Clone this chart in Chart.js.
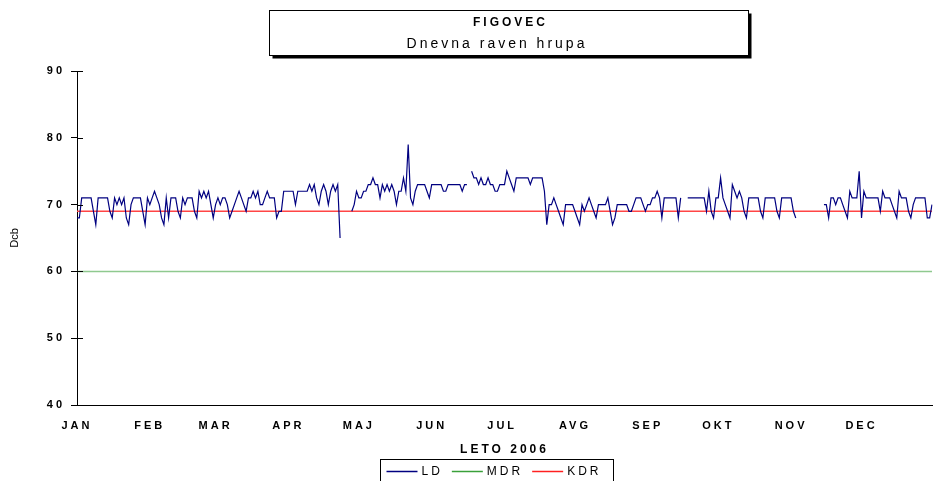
<!DOCTYPE html>
<html>
<head>
<meta charset="utf-8">
<script src="https://cdn.jsdelivr.net/npm/chart.js@4/dist/chart.umd.min.js"></script>
<style>
html, body { margin: 0; padding: 0; background: #fff; }
</style>
</head>
<body>
<canvas id="mycanvas" width="933" height="481"></canvas>
<script>
// tick labels / categories
var months = ['JAN', 'FEB', 'MAR', 'APR', 'MAJ', 'JUN', 'JUL', 'AVG', 'SEP', 'OKT', 'NOV', 'DEC'];
var monthDays = [31, 28, 31, 30, 31, 30, 31, 31, 30, 31, 30, 31];
var yTicks = [40, 50, 60, 70, 80, 90];

// LD - daily noise level (Dcb), null = no measurement
var ldJan = [68,68,71,71,71,71,71,69,67,71,71,71,71,71,69,68,71,70,71,70,71,68,67,70,71,71,71,71,69,67,71];
var ldFeb = [70,71,72,71,70,68,67,71,68,71,71,71,69,68,71,70,71,71,71,69,68,72,71,72,71,72,70,68];
var ldMar = [70,71,70,71,71,70,68,69,70,71,72,71,70,69,71,71,72,71,72,70,70,71,72,71,71,71,68,69,69,72,72];
var ldApr = [72,72,72,70,72,72,72,72,72,73,72,73,71,70,72,73,72,70,72,73,72,73,65,null,null,null,null,69,70,72];
var ldMaj = [71,71,72,72,73,73,74,73,73,71,73,72,73,72,73,72,70,72,72,74,72,79,71,70,72,73,73,73,73,72,71];
var ldJun = [73,73,73,73,73,72,72,73,73,73,73,73,73,72,73,73,null,75,74,74,73,74,73,73,74,73,73,72,72,73];
var ldJul = [73,73,75,74,73,72,74,74,74,74,74,74,73,74,74,74,74,74,72,67,70,70,71,70,69,68,67,70,70,70,70];
var ldAvg = [69,68,67,70,69,70,71,70,69,68,70,70,70,70,71,69,67,68,70,70,70,70,70,69,69,70,71,71,71,70,69];
var ldSep = [70,70,71,71,72,71,68,71,71,71,71,71,71,68,71,null,null,71,71,71,71,71,71,71,71,69,72,69,68,71];
var ldOkt = [71,74,71,70,69,68,73,72,71,72,71,69,68,71,71,71,71,71,69,68,71,71,71,71,71,69,68,71,71,71,71];
var ldNov = [71,69,68,null,null,null,null,null,null,null,null,null,null,null,70,70,68,71,71,70,71,71,70,69,68,72,71,71,71,75];
var ldDec = [68,72,71,71,71,71,71,71,69,72,71,71,71,70,69,68,72,71,71,71,69,68,70,71,71,71,71,71,68,68,70];

// limit values
var mdrLevel = 60;
var kdrLevel = 69;

var labels = [];
for (var m = 0; m < months.length; m++) {
  for (var d = 0; d < monthDays[m]; d++) labels.push(d === 0 ? months[m] : '');
}
var ld = [].concat(ldJan, ldFeb, ldMar, ldApr, ldMaj, ldJun, ldJul, ldAvg, ldSep, ldOkt, ldNov, ldDec);
var mdr = labels.map(function(){ return mdrLevel; });
var kdr = labels.map(function(){ return kdrLevel; });

var FONT = "'Liberation Sans', Arial, sans-serif";

var frames = {
  id: 'frames',
  beforeDraw: function(chart) {
    chart.ctx.letterSpacing = '3px';
  },
  afterDraw: function(chart) {
    var ctx = chart.ctx, ca = chart.chartArea, ys = chart.scales.y;
    ctx.save();
    ctx.strokeStyle = '#000';
    ctx.lineWidth = 1;
    // inner half of the y ticks
    yTicks.forEach(function(v) {
      var py = Math.round(ys.getPixelForValue(v)) + 0.5;
      ctx.beginPath();
      ctx.moveTo(ca.left, py);
      ctx.lineTo(ca.left + 6, py);
      ctx.stroke();
    });

    // y axis title (no letter spacing)
    ctx.save();
    ctx.letterSpacing = '0px';
    ctx.fillStyle = '#000';
    ctx.font = '11px ' + FONT;
    ctx.textAlign = 'center';
    ctx.textBaseline = 'middle';
    ctx.translate(15, (ca.top + ca.bottom) / 2);
    ctx.rotate(-Math.PI / 2);
    ctx.fillText('Dcb', 0, 0);
    ctx.restore();

    // title box with shadow
    var bx = 269.5, by = 10.5, bw = 479, bh = 45;
    ctx.fillStyle = '#000';
    ctx.fillRect(bx + 3, by + 3, bw, bh);
    ctx.fillStyle = '#fff';
    ctx.fillRect(bx, by, bw, bh);
    ctx.strokeRect(bx, by, bw, bh);
    ctx.fillStyle = '#000';
    ctx.textAlign = 'center';
    ctx.textBaseline = 'middle';
    ctx.letterSpacing = '3px';
    ctx.font = 'bold 12px ' + FONT;
    ctx.fillText('FIGOVEC', bx + bw / 2 + 1.5, by + 12);
    ctx.font = '14px ' + FONT;
    ctx.fillText('Dnevna raven hrupa', bx + bw / 2 - 12, by + 34);

    // legend box
    var lx = 380.5, ly = 459.5, lw = 233, lh = 30;
    ctx.strokeStyle = '#000';
    ctx.lineWidth = 1;
    ctx.strokeRect(lx, ly, lw, lh);
    ctx.font = '12px ' + FONT;
    ctx.textAlign = 'left';
    var cx = lx + 6, cy = ly + 12;
    chart.data.datasets.forEach(function(ds) {
      ctx.strokeStyle = ds.legendColor;
      ctx.lineWidth = 1.5;
      ctx.beginPath();
      ctx.moveTo(cx, cy);
      ctx.lineTo(cx + 31, cy);
      ctx.stroke();
      cx += 35;
      ctx.fillStyle = '#000';
      ctx.fillText(ds.label, cx, cy);
      cx += ctx.measureText(ds.label).width + 9;
    });
    ctx.restore();
  }
};

var ctx = document.getElementById('mycanvas');
var chart = new Chart(ctx, {
  type: 'line',
  data: {
    labels: labels,
    datasets: [
      { label: 'LD', data: ld, borderColor: '#000080', legendColor: '#000080', borderWidth: 1.2, pointRadius: 0, tension: 0, spanGaps: false },
      { label: 'MDR', data: mdr, borderColor: '#8fc98f', legendColor: '#3aa03a', borderWidth: 1.5, pointRadius: 0 },
      { label: 'KDR', data: kdr, borderColor: '#ff4545', legendColor: '#ff2020', borderWidth: 1.5, pointRadius: 0 }
    ]
  },
  options: {
    responsive: false,
    animation: false,
    devicePixelRatio: 1,
    layout: { padding: { left: 9, right: 1, top: 71, bottom: 24 } },
    plugins: { legend: { display: false }, tooltip: { enabled: false } },
    scales: {
      x: {
        afterFit: function(s) { s.height = 52; s.paddingLeft = 0; s.paddingRight = 0; },
        grid: { display: false, drawTicks: false },
        border: { display: true, color: '#000', width: 1 },
        ticks: {
          autoSkip: false, maxRotation: 0, padding: 14, color: '#000',
          font: { family: FONT, size: 11, weight: 'bold' }
        },
        title: {
          display: true, text: 'LETO 2006', color: '#000', padding: 0,
          font: { family: FONT, size: 12, weight: 'bold' }
        }
      },
      y: {
        min: 40, max: 90,
        afterFit: function(s) { s.width = 68; },
        grid: { drawOnChartArea: false, drawTicks: true, tickLength: 6, color: '#000' },
        border: { display: true, color: '#000', width: 1 },
        ticks: {
          stepSize: 10, padding: 6, color: '#000',
          font: { family: FONT, size: 11, weight: 'bold' }
        },
        title: { display: false }
      }
    }
  },
  plugins: [frames]
});
</script>
</body>
</html>
